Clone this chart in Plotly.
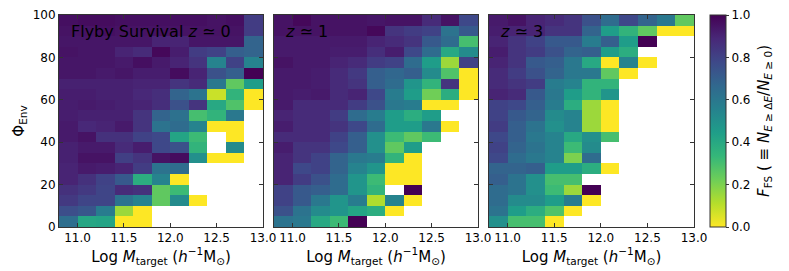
import plotly.graph_objects as go

N = None
x_centers = [10.9, 11.1, 11.3, 11.5, 11.7, 11.9, 12.1, 12.3, 12.5, 12.7, 12.9]
y_centers = [97.5 - 5 * i for i in range(20)]  # top to bottom

# rows listed from top (95-100) to bottom (0-5)
z_panel0 = [
    [0.96, 0.97, 0.97, 0.96, 0.96, 0.96, 0.96, 0.96, 0.95, 0.96, 0.82],
    [0.95, 0.95, 0.96, 0.95, 0.95, 0.95, 0.95, 0.95, 0.95, 0.95, 0.82],
    [0.94, 0.94, 0.94, 0.94, 0.94, 0.90, 0.90, 0.94, 0.94, 0.94, 0.68],
    [0.95, 0.94, 0.94, 0.90, 0.88, 0.98, 0.92, 0.82, 0.80, 0.70, 0.68],
    [0.94, 0.94, 0.94, 0.93, 0.96, 0.93, 0.90, 0.85, 0.55, 0.80, 0.55],
    [0.94, 0.94, 0.93, 0.94, 0.92, 0.92, 0.97, 0.90, 0.75, 0.70, 1.00],
    [0.91, 0.91, 0.91, 0.91, 0.90, 0.90, 0.85, 0.88, 0.60, 0.25, 0.45],
    [0.92, 0.92, 0.91, 0.91, 0.89, 0.87, 0.68, 0.62, 0.08, 0.35, 0.00],
    [0.92, 0.93, 0.92, 0.91, 0.90, 0.87, 0.75, 0.85, 0.40, 0.28, 0.00],
    [0.92, 0.91, 0.91, 0.91, 0.85, 0.68, 0.63, 0.30, 0.35, 0.60, N],
    [0.93, 0.89, 0.90, 0.93, 0.85, 0.62, 0.65, 0.55, 0.00, 0.00, N],
    [0.93, 0.95, 0.86, 0.86, 0.80, 0.78, 0.42, 0.32, N, 0.00, N],
    [0.91, 0.93, 0.93, 0.88, 0.92, 0.78, 0.75, 0.35, N, 0.52, N],
    [0.91, 0.95, 0.95, 0.81, 0.85, 0.95, 0.97, 0.50, 0.00, 0.00, N],
    [0.90, 0.93, 0.92, 0.90, 0.82, 0.62, 0.65, N, N, N, N],
    [0.90, 0.86, 0.80, 0.72, 0.38, 0.55, 0.00, N, N, N, N],
    [0.86, 0.83, 0.79, 0.88, 0.86, 0.25, 0.32, N, N, N, N],
    [0.83, 0.79, 0.79, 0.62, 0.55, 0.25, 0.52, 0.00, N, N, N],
    [0.76, 0.73, 0.58, 0.15, 0.00, N, N, N, N, N, N],
    [0.64, 0.41, 0.42, 0.00, 0.00, N, N, N, N, N, N],
]

z_panel1 = [
    [0.95, 0.98, 0.95, 0.95, 0.95, 0.94, 0.95, 0.95, 0.88, 0.95, 0.78],
    [0.95, 0.95, 0.95, 0.95, 0.95, 0.98, 0.85, 0.82, 0.80, 0.62, 0.72],
    [0.93, 0.93, 0.93, 0.93, 0.93, 0.90, 0.88, 0.85, 0.72, 0.65, 0.30],
    [0.93, 0.93, 0.93, 0.92, 0.92, 0.87, 0.92, 0.78, 0.65, 0.40, 0.52],
    [0.95, 0.93, 0.93, 0.90, 0.88, 0.82, 0.80, 0.65, 0.45, 0.15, 0.80],
    [0.93, 0.93, 0.92, 0.88, 0.83, 0.70, 0.67, 0.70, 0.52, 0.28, 0.00],
    [0.93, 0.93, 0.92, 0.88, 0.85, 0.70, 0.65, 0.48, 0.35, 0.85, 0.00],
    [0.93, 0.92, 0.93, 0.88, 0.90, 0.78, 0.58, 0.45, 0.22, 0.38, 0.00],
    [0.93, 0.88, 0.88, 0.88, 0.82, 0.75, 0.60, 0.58, 0.00, 0.00, N],
    [0.90, 0.88, 0.88, 0.82, 0.65, 0.58, 0.45, 0.38, 0.45, N, N],
    [0.92, 0.88, 0.88, 0.85, 0.78, 0.65, 0.45, 0.45, 0.60, 0.00, N],
    [0.88, 0.88, 0.88, 0.80, 0.70, 0.50, 0.32, 0.25, 0.32, N, N],
    [0.92, 0.85, 0.85, 0.78, 0.70, 0.50, 0.25, 0.45, N, N, N],
    [0.90, 0.85, 0.80, 0.68, 0.60, 0.58, 0.35, 0.00, N, N, N],
    [0.90, 0.78, 0.80, 0.68, 0.55, 0.48, 0.00, 0.00, N, N, N],
    [0.90, 0.82, 0.75, 0.65, 0.48, 0.32, 0.00, 0.00, N, N, N],
    [0.80, 0.72, 0.70, 0.65, 0.48, 0.35, N, 1.00, N, N, N],
    [0.80, 0.72, 0.60, 0.48, 0.58, 0.12, 0.55, 0.00, N, N, N],
    [0.75, 0.62, 0.52, 0.48, 0.42, 0.38, 0.00, N, N, N, N],
    [0.62, 0.60, 0.40, 0.32, 1.00, N, N, N, N, N, N],
]

z_panel2 = [
    [0.93, 0.95, 0.90, 0.88, 0.85, 0.75, 0.65, 0.78, 0.68, 0.60, 0.25],
    [0.92, 0.90, 0.90, 0.85, 0.85, 0.68, 0.45, 0.35, 0.25, 0.00, 0.00],
    [0.90, 0.85, 0.80, 0.72, 0.72, 0.58, 0.70, 0.45, 1.00, N, N],
    [0.92, 0.85, 0.82, 0.75, 0.68, 0.70, 0.45, 0.38, N, N, N],
    [0.90, 0.85, 0.72, 0.70, 0.60, 0.40, 0.00, 0.55, 0.00, N, N],
    [0.88, 0.82, 0.75, 0.68, 0.60, 0.60, 0.25, 0.00, N, N, N],
    [0.88, 0.85, 0.82, 0.58, 0.55, 0.35, 0.35, N, N, N, N],
    [0.90, 0.88, 0.72, 0.60, 0.45, 0.35, 0.48, N, N, N, N],
    [0.80, 0.78, 0.70, 0.58, 0.38, 0.15, 0.00, N, N, N, N],
    [0.80, 0.72, 0.68, 0.52, 0.55, 0.15, 0.00, N, N, N, N],
    [0.82, 0.70, 0.62, 0.50, 0.55, 0.15, 0.00, N, N, N, N],
    [0.78, 0.70, 0.60, 0.55, 0.40, 0.50, 0.30, N, N, N, N],
    [0.80, 0.68, 0.62, 0.55, 0.32, 0.52, N, N, N, N, N],
    [0.78, 0.65, 0.60, 0.55, 0.20, 0.65, N, N, N, N, N],
    [0.68, 0.68, 0.70, 0.45, 0.45, 0.38, 0.00, N, N, N, N],
    [0.70, 0.62, 0.50, 0.30, 0.30, N, N, N, N, N, N],
    [0.65, 0.62, 0.50, 0.32, 0.15, 1.00, N, N, N, N, N],
    [0.65, 0.52, 0.52, 0.45, 0.58, 0.00, N, N, N, N, N],
    [0.62, 0.45, 0.38, 0.28, 0.00, N, N, N, N, N, N],
    [0.50, 0.30, 0.30, 0.00, N, N, N, N, N, N, N],
]

panel_labels = ["Flyby Survival <i>z</i> ≃ 0", "<i>z</i> ≃ 1", "<i>z</i> ≃ 3"]
x_ticks = [11.0, 11.5, 12.0, 12.5, 13.0]
y_ticks = [0, 20, 40, 60, 80, 100]
cbar_ticks = [0.0, 0.2, 0.4, 0.6, 0.8, 1.0]

W, H = 789, 271
FONT = "DejaVu Sans"
panels_px = [(59, 263), (274, 478), (489, 694)]
top_px, bot_px = 15, 227
ydom = [(H - bot_px) / H, (H - top_px) / H]

fig = go.Figure()
zs = [z_panel0, z_panel1, z_panel2]
for i, z in enumerate(zs):
    suffix = "" if i == 0 else str(i + 1)
    fig.add_trace(go.Heatmap(
        x=x_centers, y=y_centers, z=z,
        colorscale="Viridis", reversescale=True, zmin=0, zmax=1,
        xaxis="x" + suffix, yaxis="y" + suffix,
        showscale=(i == 0),
        colorbar=dict(
            x=710 / W, xanchor="left", xref="paper", xpad=0, ypad=0,
            y=0.5 * (ydom[0] + ydom[1]), yanchor="middle",
            len=bot_px - top_px, lenmode="pixels",
            thickness=16, thicknessmode="pixels",
            outlinewidth=1, outlinecolor="#333",
            tickvals=cbar_ticks, ticktext=[f"{v:.1f}" for v in cbar_ticks],
            ticks="outside", ticklen=3, tickcolor="#333",
            tickfont=dict(family=FONT, size=12, color="black"),
        ),
    ))

axis_common = dict(showline=True, mirror="ticks", linecolor="#333", linewidth=1,
                   ticks="inside", ticklen=4, tickcolor="#333", showgrid=False,
                   zeroline=False, automargin=False,
                   tickfont=dict(family=FONT, size=12, color="black"))
xlabel = "Log <i>M</i><sub>target</sub> (<i>h</i><sup>−1</sup>M<sub>⊙</sub>)"
layout = dict(width=W, height=H, margin=dict(l=0, r=0, t=0, b=0, autoexpand=False),
              plot_bgcolor="white", paper_bgcolor="white",
              font=dict(family=FONT, color="black"))
for i, (l, r) in enumerate(panels_px):
    suffix = "" if i == 0 else str(i + 1)
    layout["xaxis" + suffix] = dict(
        axis_common, domain=[l / W, r / W], range=[10.8, 13.0], anchor="y" + suffix,
        tickvals=x_ticks, ticktext=[f"{v:.1f}" for v in x_ticks],
        title=dict(text=xlabel, font=dict(family=FONT, size=15), standoff=3))
    layout["yaxis" + suffix] = dict(
        axis_common, domain=ydom, range=[0, 100], anchor="x" + suffix,
        tickvals=y_ticks, showticklabels=(i == 0),
        title=dict(text="Φ<sub>Env</sub>" if i == 0 else "", font=dict(family=FONT, size=15), standoff=4))
fig.update_layout(**layout)

label_x = [69, 283, 498]
for i, t in enumerate(panel_labels):
    fig.add_annotation(text=t, x=label_x[i] / W, y=(H - 31) / H, xref="paper", yref="paper",
                       xanchor="left", yanchor="middle", showarrow=False,
                       font=dict(family=FONT, size=16, color="black"))

fig.add_annotation(
    text="<i>F</i><sub>FS</sub> ( ≡ <i>N</i><sub><i>E</i> ≥ Δ<i>E</i></sub>/<i>N</i><sub><i>E</i> ≥ 0</sub>)",
    x=764 / W, y=0.5 * (ydom[0] + ydom[1]), xref="paper", yref="paper",
    xanchor="center", yanchor="middle", textangle=-90, showarrow=False,
    font=dict(family=FONT, size=15, color="black"))

fig.write_html("out.html", config={"displayModeBar": False},
               post_script="document.body.style.margin='0';document.body.style.padding='0';")
